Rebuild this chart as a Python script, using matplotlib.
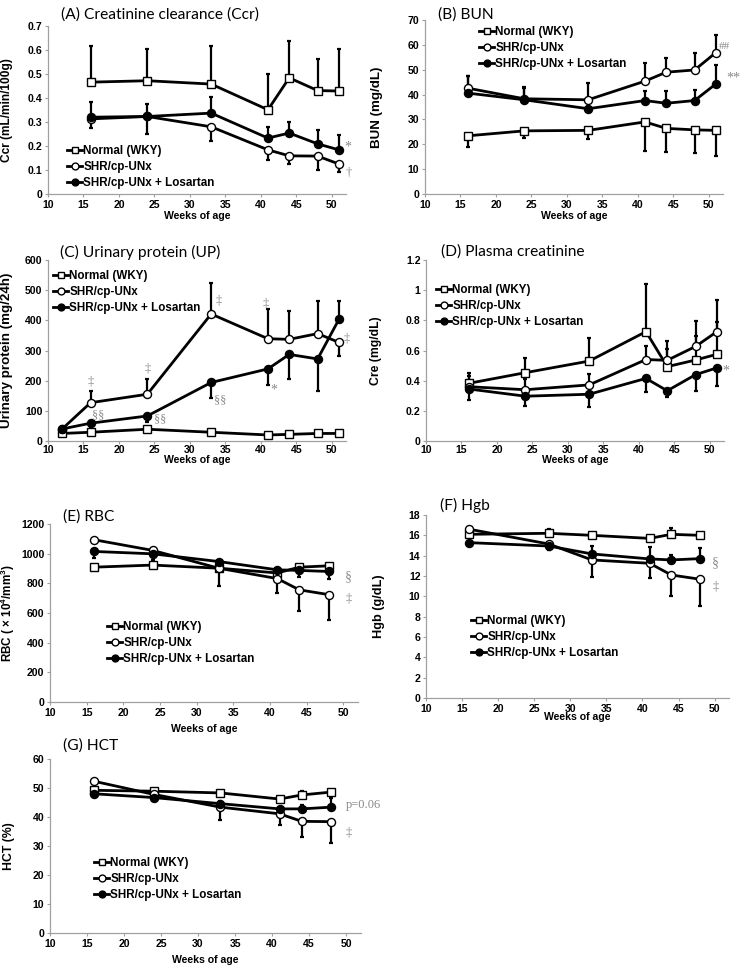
import matplotlib
matplotlib.use("Agg")
import matplotlib.pyplot as plt
import numpy as np
from matplotlib.ticker import FuncFormatter, MultipleLocator

plt.rcParams['font.family'] = ['Liberation Sans', 'DejaVu Sans']
plt.rcParams['mathtext.fontset'] = 'custom'
plt.rcParams['mathtext.rm'] = 'Liberation Sans'
plt.rcParams['mathtext.bf'] = 'Liberation Sans:bold'

# ---------------- data ----------------
series_labels = ["Normal (WKY)", "SHR/cp-UNx", "SHR/cp-UNx + Losartan"]

# (A) Ccr
weeks_a = [16, 24, 33, 41, 44, 48, 51]
a_norm = [0.466, 0.472, 0.458, 0.351, 0.484, 0.431, 0.429]
a_norm_sd = [0.151, 0.134, 0.159, 0.149, 0.155, 0.132, 0.176]
a_shr = [0.313, 0.323, 0.280, 0.184, 0.159, 0.158, 0.125]
a_shr_sd = [-0.040, -0.073, -0.061, -0.041, -0.034, -0.057, -0.035]
a_los = [0.320, 0.323, 0.337, 0.233, 0.254, 0.209, 0.184]
a_los_sd = [0.063, 0.050, 0.069, 0.047, 0.044, 0.059, 0.061]

# (B) BUN
weeks_b = [16, 24, 33, 41, 44, 48, 51]
b_norm = [23.4, 25.4, 25.6, 29.0, 26.4, 25.8, 25.6]
b_norm_sd = [-4.5, -2.8, -3.5, -11.9, -9.5, -9.3, -10.2]
b_shr = [42.6, 38.3, 37.9, 45.4, 49.0, 49.9, 56.9]
b_shr_sd = [4.9, 4.9, 6.7, 7.5, 5.6, 7.0, 7.2]
b_los = [40.6, 37.9, 34.3, 37.6, 36.5, 37.6, 44.3]
b_los_sd = [6.9, 4.7, 1.0, 4.0, 5.1, 4.3, 7.5]

# (C) Urinary protein
weeks_c = [12, 16, 24, 33, 41, 44, 48, 51]
c_norm = [25, 29, 39, 29, 20, 22, 25, 25]
c_norm_sd = [3, 3, 5, 3, 3, 3, 3, 3]
c_shr = [40, 127, 155, 421, 339, 337, 356, 327]
c_shr_sd = [5, 40, 49, 104, 97, 94, 108, -44]
c_los = [40, 59, 83, 194, 239, 287, 272, 403]
c_los_sd = [-5, -15, -21, -50, -53, -83, -105, 61]

# (D) Plasma creatinine
weeks_d = [16, 24, 33, 41, 44, 48, 51]
d_norm = [0.382, 0.453, 0.530, 0.725, 0.493, 0.537, 0.575]
d_norm_sd = [0.07, 0.10, 0.155, 0.314, 0.117, 0.16, 0.215]
d_shr = [0.360, 0.340, 0.372, 0.540, 0.535, 0.627, 0.725]
d_shr_sd = [0.07, 0.07, 0.073, 0.09, 0.13, 0.17, 0.21]
d_los = [0.345, 0.297, 0.310, 0.415, 0.333, 0.440, 0.485]
d_los_sd = [-0.075, -0.062, -0.085, -0.09, -0.043, -0.11, -0.12]

# (E) RBC
weeks_e = [16, 24, 33, 41, 44, 48]
e_norm = [909, 923, 902, 870, 909, 918]
e_norm_sd = [10, 10, 15, 15, 15, 15]
e_shr = [1094, 1022, 902, 832, 756, 724]
e_shr_sd = [-10, -20, -119, -99, -140, -171]
e_los = [1015, 999, 947, 891, 887, 880]
e_los_sd = [-45, -40, -20, -20, -41, -52]

# (F) Hgb
weeks_f = [16, 27, 33, 41, 44, 48]
f_norm = [16.1, 16.2, 16.0, 15.7, 16.1, 16.0]
f_norm_sd = [0.2, 0.45, 0.2, 0.2, 0.6, 0.2]
f_shr = [16.6, 15.15, 13.58, 13.25, 12.1, 11.68]
f_shr_sd = [-0.1, -0.3, -1.7, -1.4, -2.05, -2.65]
f_los = [15.28, 14.95, 14.17, 13.68, 13.58, 13.71]
f_los_sd = [0.1, -0.4, 0.8, 1.2, 0.5, 1.05]

# (G) HCT
weeks_g = [16, 24, 33, 41, 44, 48]
g_norm = [49.2, 48.9, 48.3, 46.2, 47.6, 48.6]
g_norm_sd = [0.5, 0.5, 0.5, 0.5, 1.5, 0.5]
g_shr = [52.3, 47.8, 43.4, 41.1, 38.5, 38.4]
g_shr_sd = [-0.5, -0.5, -4.3, -3.7, -5.4, -7.4]
g_los = [48.0, 46.7, 44.6, 42.8, 42.8, 43.4]
g_los_sd = [-0.5, -0.5, 1.0, 0.5, 1.5, 3.0]

# ---------------- layout ----------------
W, H = 741, 973
fig = plt.figure(figsize=(W / 100, H / 100), dpi=100)


def fx(px):
    return px / W


def fy(py):
    return 1 - py / H


GRAY = '#a0a0a0'
ANN = '#8a8a8a'


def panel(box, weeks, vals, sds, ylim, ystep, ylabel, ylabel_fs, ylabel_x,
          title, title_xy, leg_xy, xlabel_y, anns, xpad=1.5):
    l, r, t, b = box
    ax = fig.add_axes([fx(l), fy(b), (r - l) / W, (b - t) / H])
    styles = [dict(marker='s', mfc='white'), dict(marker='o', mfc='white'),
              dict(marker='o', mfc='black')]
    handles = []
    for v, s in zip(vals, sds):
        s = np.asarray(s, dtype=float)
        lo = np.where(s < 0, -s, 0)
        hi = np.where(s > 0, s, 0)
        ax.errorbar(weeks, v, yerr=[lo, hi], fmt='none', ecolor='black',
                    elinewidth=1.6, capsize=1.7, capthick=1.6, zorder=2)
    for v, st, lab in zip(vals, styles, series_labels):
        h, = ax.plot(weeks, v, '-', color='black', lw=2.0, marker=st['marker'],
                     mfc=st['mfc'], mec='black', ms=5.8, mew=1.0, zorder=3,
                     label=lab)
        handles.append(h)
    ax.set_xlim(10, 52)
    ax.set_ylim(*ylim)
    ax.xaxis.set_major_locator(MultipleLocator(5))
    ax.yaxis.set_major_locator(MultipleLocator(ystep))
    ax.xaxis.set_major_formatter(FuncFormatter(lambda v, p: f"{v:g}" if v <= 50 else ""))
    ax.yaxis.set_major_formatter(FuncFormatter(lambda v, p: f"{round(v, 6):g}"))
    for sp in ['top', 'right']:
        ax.spines[sp].set_visible(False)
    for sp in ['left', 'bottom']:
        ax.spines[sp].set_color(GRAY)
        ax.spines[sp].set_linewidth(0.9)
    ax.tick_params(axis='both', direction='out', length=2.5, width=0.8,
                   color=GRAY, labelsize=7.6, pad=1.5)
    ax.tick_params(axis='x', pad=xpad)
    for lbl in ax.get_xticklabels() + ax.get_yticklabels():
        lbl.set_fontweight('bold')
    ax.set_ylabel(ylabel, fontsize=ylabel_fs, fontweight='bold')
    ax.yaxis.set_label_coords(fx(ylabel_x), fy((t + b) / 2), transform=fig.transFigure)
    fig.text(fx((l + r) / 2), fy(xlabel_y), "Weeks of age",
             fontsize=7.6, fontweight='bold', ha='center', va='center')
    fig.text(fx(title_xy[0]), fy(title_xy[1]), title, fontsize=11.2,
             family=['Lato', 'DejaVu Sans'], ha='left', va='center')
    ax.legend(handles=handles, loc='upper left',
              bbox_to_anchor=(fx(leg_xy[0]), fy(leg_xy[1])),
              bbox_transform=fig.transFigure, frameon=False,
              prop=dict(weight='bold', size=8.4), handlelength=1.3,
              handletextpad=0.1, labelspacing=0.36, borderpad=0,
              borderaxespad=0, markerscale=0.85)
    for txt, x, y, fs in anns:
        ax.text(x, y, txt, color=ANN, fontsize=fs, ha='center', va='center',
                family=['Liberation Serif', 'DejaVu Serif'], clip_on=False)
    return ax


panel((48, 346, 26, 194), weeks_a, [a_norm, a_shr, a_los],
      [a_norm_sd, a_shr_sd, a_los_sd], (0, 0.7), 0.1,
      "Ccr (mL/min/100g)", 8.6, 13, "(A) Creatinine clearance (Ccr)", (61, 15),
      (67, 145), 216,
      [("*", 52.3, 0.195, 10), ("†", 52.4, 0.088, 9)])

panel((425, 723, 20, 194), weeks_b, [b_norm, b_shr, b_los],
      [b_norm_sd, b_shr_sd, b_los_sd], (0, 70), 10,
      "BUN (mg/dL)", 9.6, 383, "(B) BUN", (438, 15),
      (479, 26), 216,
      [("##", 52.2, 59.5, 8), ("**", 53.4, 46.5, 10)])

panel((48, 346, 260, 441), weeks_c, [c_norm, c_shr, c_los],
      [c_norm_sd, c_shr_sd, c_los_sd], (0, 600), 100,
      "Urinary protein (mg/24h)", 9.6, 13, "(C) Urinary protein (UP)", (60, 252),
      (53, 270), 460,
      [("‡", 16.0, 197, 9), ("‡", 24.0, 241, 9), ("‡", 34.1, 467, 9),
       ("‡", 40.7, 456, 9), ("‡", 52.1, 340, 9),
       ("§§", 17.0, 84, 9), ("§§", 25.8, 73, 9), ("§§", 34.2, 134, 9),
       ("*", 41.8, 168, 10)], xpad=0.3)

panel((426, 724, 260, 441), weeks_d, [d_norm, d_shr, d_los],
      [d_norm_sd, d_shr_sd, d_los_sd], (0, 1.2), 0.2,
      "Cre (mg/dL)", 8.8, 382, "(D) Plasma creatinine", (441, 252),
      (436, 284), 460,
      [("*", 52.3, 0.465, 10)], xpad=0.3)

panel((50, 358, 524, 702), weeks_e, [e_norm, e_shr, e_los],
      [e_norm_sd, e_shr_sd, e_los_sd], (0, 1200), 200,
      r"RBC ( × 10$^{\mathbf{4}}$/mm$^{\mathbf{3}}$)", 8.4, 17, "(E) RBC", (63, 517),
      (107, 621), 729,
      [("§", 50.7, 846, 10), ("‡", 50.7, 700, 9)])

panel((426, 729, 515, 698), weeks_f, [f_norm, f_shr, f_los],
      [f_norm_sd, f_shr_sd, f_los_sd], (0, 18), 2,
      "Hgb (g/dL)", 9.2, 385, "(F) Hgb", (440, 505),
      (471, 615), 717,
      [("§", 50.1, 13.3, 10), ("‡", 50.2, 11.0, 9)])

ax_g = panel((50, 361, 759, 933), weeks_g, [g_norm, g_shr, g_los],
             [g_norm_sd, g_shr_sd, g_los_sd], (0, 60), 10,
             "HCT (%)", 8.8, 15, "(G) HCT", (63, 746),
             (94, 857), 960,
             [("‡", 50.3, 34.5, 9)])
ax_g.text(50.0, 44.3, "p=0.06", color=ANN, fontsize=9, ha='left', va='center',
          family=['Liberation Serif', 'DejaVu Serif'], clip_on=False)

fig.savefig("out.png", dpi=100)
